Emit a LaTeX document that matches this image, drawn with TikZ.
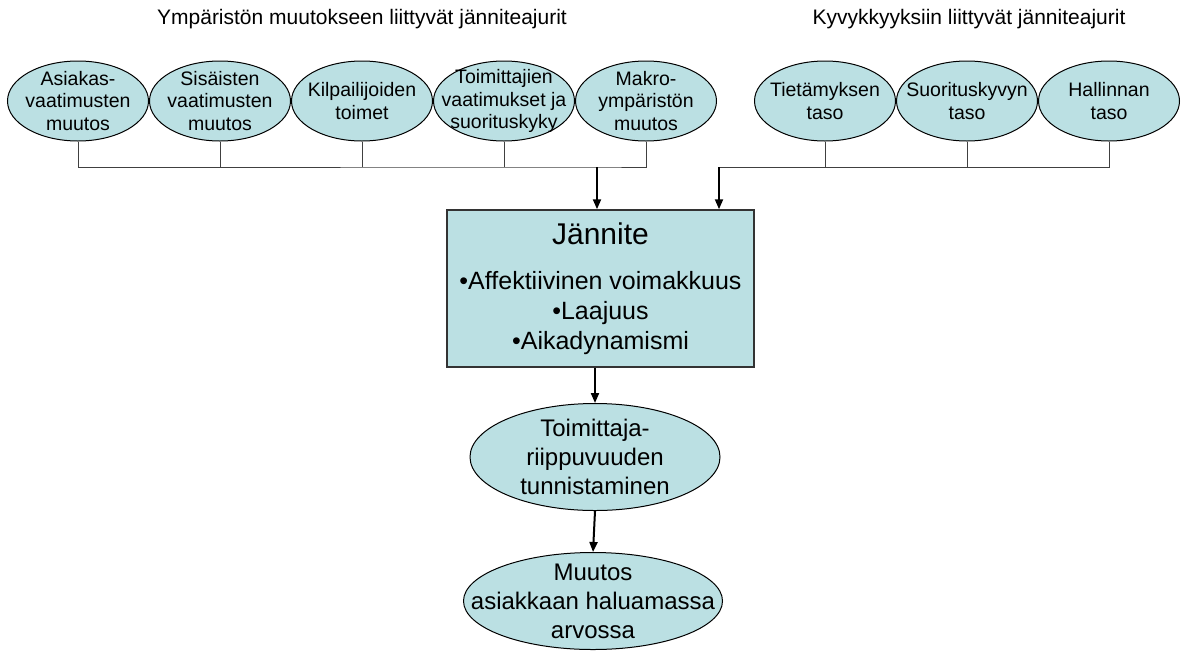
\documentclass[tikz,border=0pt]{standalone}
\usepackage{fontspec}
\setmainfont{Liberation Sans}
\usetikzlibrary{positioning,arrows.meta,shapes.geometric}
\definecolor{drvfill}{RGB}{187,224,227}

\begin{document}
\begin{tikzpicture}[
  x=1pt, y=-1pt,
  >={Triangle[length=10pt,width=8pt]},
  ttl/.style={inner sep=0pt, anchor=base, font=\fontsize{21}{25}\selectfont},
  drv/.style={ellipse, draw, fill=drvfill, align=center, line width=1pt,
              minimum width=141pt, minimum height=80pt,
              inner xsep=-14pt, inner ysep=-13pt,
              execute at begin node={\rule{0pt}{31pt}},
              font=\fontsize{19.5}{22.5}\selectfont},
  core/.style={draw, line width=1.5pt, draw=black!80, fill=drvfill, align=center,
               minimum width=307pt, minimum height=157pt,
               font=\fontsize{25}{30}\selectfont},
  res/.style={ellipse, draw, fill=drvfill, align=center, line width=1pt,
              inner xsep=-35pt, inner ysep=-8pt,
              font=\fontsize{24}{29}\selectfont},
  conn/.style={line width=1pt, draw=black!75},
  arr/.style={->, line width=2pt},
  node distance=0pt and 0pt,
]
\useasboundingbox (0,0) rectangle (1182,651);
\node[ttl] (ttlenv) at (362,24) {Ympäristön muutokseen liittyvät jänniteajurit};
\node[ttl] (ttlcap) at (969,24) {Kyvykkyyksiin liittyvät jänniteajurit};
\node[drv] (asi) at (78,101) {Asiakas-\\vaatimusten\\muutos};
\node[drv, right=of asi] (sis) {Sisäisten\\vaatimusten\\muutos};
\node[drv, right=of sis] (kil) {Kilpailijoiden\\toimet};
\node[drv, right=of kil] (toi) {Toimittajien\\vaatimukset ja\\suorituskyky};
\node[drv, right=of toi] (mak) {Makro-\\ympäristön\\muutos};
\node[drv] (tie) at (825,101) {Tietämyksen\\taso};
\node[drv, right=of tie] (suo) {Suorituskyvyn\\taso};
\node[drv, right=of suo] (hal) {Hallinnan\\taso};
\node[core] (jan) at (600.5,288.5)
     {{\fontsize{30}{36}\selectfont Jännite}\\[15pt]
      •Affektiivinen voimakkuus\\ •Laajuus\\ •Aikadynamismi};
\node[res, minimum width=250pt, minimum height=107pt] (tun) at (595,457)
     {Toimittaja-\\riippuvuuden\\tunnistaminen};
\node[res, minimum width=259pt, minimum height=97pt] (muu) at (593,601)
     {Muutos\\asiakkaan haluamassa\\arvossa};
% brackets
\coordinate (brL) at (597,167);
\coordinate (brR) at (719,167);
\draw[conn] (asi.south) |- (brL) -| (mak.south);
\foreach \n in {sis,kil,toi} \draw[conn] (\n.south) -- (\n.south |- brL);
\draw[conn] (brR) -| (hal.south);
\foreach \n in {tie,suo} \draw[conn] (\n.south) -- (\n.south |- brR);
\draw[arr] (brL) -- (brL |- jan.north);
\draw[arr] (brR) -- (brR |- jan.north);
\draw[arr] (jan.south -| tun.north) -- (tun.north);
\draw[arr] (tun.south) -- (muu.north);
\end{tikzpicture}
\end{document}
